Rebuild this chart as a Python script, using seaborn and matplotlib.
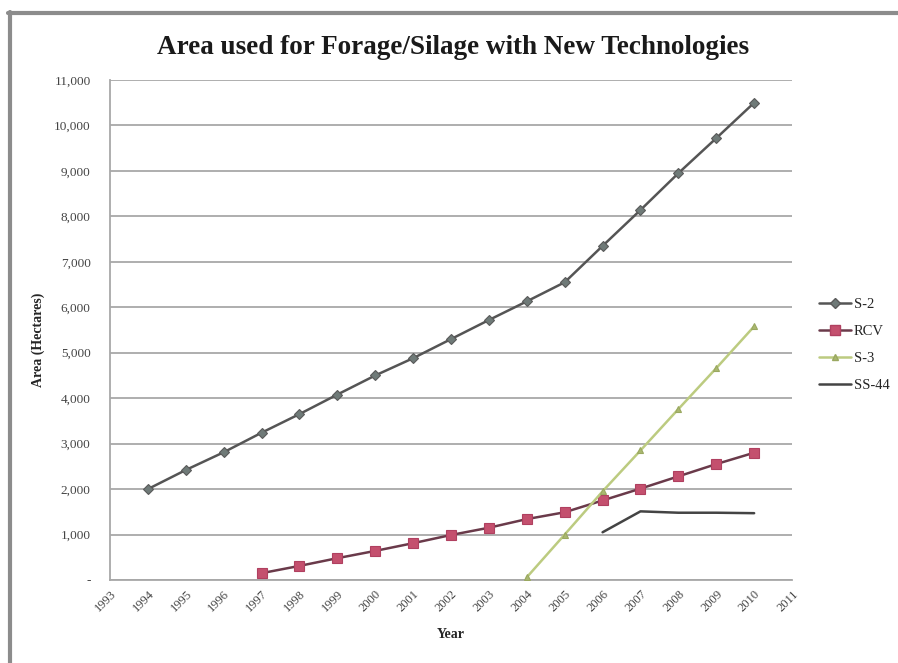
import matplotlib
matplotlib.use("Agg")
import matplotlib.pyplot as plt
from matplotlib.lines import Line2D
from matplotlib.ticker import FuncFormatter, MultipleLocator
import pandas as pd
import seaborn as sns

# Hectares per year for each technology
years_s2 = list(range(1994, 2011))
s2 = [2000, 2420, 2810, 3240, 3650, 4080, 4500, 4880, 5300, 5720,
      6130, 6550, 7350, 8140, 8950, 9720, 10500]

years_rcv = list(range(1997, 2011))
rcv = [150, 310, 480, 640, 810, 990, 1150, 1340, 1490, 1750,
       2010, 2280, 2550, 2800]

years_s3 = list(range(2004, 2011))
s3 = [60, 1000, 1950, 2850, 3760, 4660, 5580]

years_ss44 = list(range(2006, 2011))
ss44 = [1050, 1510, 1480, 1480, 1470]

series_names = ["S-2", "RCV", "S-3", "SS-44"]
tick_years = list(range(1993, 2012))

frames = []
for name, yrs, vals in [("S-2", years_s2, s2), ("RCV", years_rcv, rcv),
                        ("S-3", years_s3, s3), ("SS-44", years_ss44, ss44)]:
    frames.append(pd.DataFrame({"Year": yrs, "Area": vals, "Series": name}))
df = pd.concat(frames, ignore_index=True)

sns.set_theme(style="white")
plt.rcParams["font.family"] = ["Liberation Serif", "DejaVu Serif"]

fig = plt.figure(figsize=(8.98, 6.63), dpi=100)
ax = fig.add_axes([0.1225, 0.1252, 0.7595, 0.7541])

styles = {
    "S-2": dict(color="#555555", marker="D", markersize=5,
                markerfacecolor="#6f7a78", markeredgecolor="#5a5a5a"),
    "RCV": dict(color="#6a3a4a", marker="s", markersize=7,
                markerfacecolor="#c4506e", markeredgecolor="#b04060"),
    "S-3": dict(color="#bccb80", marker="^", markersize=5,
                markerfacecolor="#aab870", markeredgecolor="#9aa860"),
    "SS-44": dict(color="#444444", marker=None),
}

for name in series_names:
    sub = df[df["Series"] == name]
    st = styles[name]
    sns.lineplot(data=sub, x="Year", y="Area", ax=ax, label=name,
                 color=st["color"], linewidth=1.8,
                 marker=st["marker"],
                 markersize=st.get("markersize", 0),
                 markerfacecolor=st.get("markerfacecolor"),
                 markeredgecolor=st.get("markeredgecolor"),
                 markeredgewidth=0.8, zorder=3)

ax.set_xlim(1993, 2011)
ax.set_ylim(0, 11000)
ax.set_xticks(tick_years)
ax.set_xticklabels([str(y) for y in tick_years], rotation=45,
                   ha="right", rotation_mode="anchor",
                   fontsize=9, color="#444444")
ax.yaxis.set_major_locator(MultipleLocator(1000))
ax.yaxis.set_major_formatter(
    FuncFormatter(lambda v, p: "-" if v == 0 else f"{int(v):,}"))
for lab in ax.get_yticklabels():
    lab.set_fontsize(9.5)
    lab.set_color("#444444")

ax.grid(axis="y", color="#a8a8a8", linewidth=1.3)
ax.grid(axis="x", visible=False)
for side in ["top", "right"]:
    ax.spines[side].set_visible(False)
for side in ["left", "bottom"]:
    ax.spines[side].set_color("#a8a8a8")
    ax.spines[side].set_linewidth(1.3)
ax.tick_params(axis="both", which="major", direction="out", length=4,
               width=1, color="#a8a8a8", pad=2)
ax.tick_params(axis="y", pad=10)

ax.set_xlabel("Year", fontsize=10, fontweight="bold", labelpad=10)
ax.set_ylabel("Area (Hectares)", fontsize=10, fontweight="bold")
ax.yaxis.set_label_coords(-0.096, 0.48)

fig.text(0.505, 0.929, "Area used for Forage/Silage with New Technologies",
         ha="center", va="center", fontsize=19.5, fontweight="bold",
         color="#1a1a1a")

handles = []
for name in series_names:
    st = styles[name]
    handles.append(Line2D([], [], color=st["color"], linewidth=1.8,
                          marker=st["marker"],
                          markersize=st.get("markersize", 0),
                          markerfacecolor=st.get("markerfacecolor"),
                          markeredgecolor=st.get("markeredgecolor")))
ax.legend(handles, series_names, loc="center left",
          bbox_to_anchor=(1.02, 0.47), frameon=False, fontsize=10.5,
          handlelength=2.2, labelspacing=0.95, handletextpad=0.2)

# outer frame lines on the left and top edges
fig.add_artist(Line2D([10 / 898, 10 / 898], [0, 1 - 12 / 663],
                      transform=fig.transFigure, color="#8c8c8c",
                      linewidth=3.0))
fig.add_artist(Line2D([8 / 898, 1], [1 - 13 / 663, 1 - 13 / 663],
                      transform=fig.transFigure, color="#8c8c8c",
                      linewidth=3.0))

fig.savefig("out.png", dpi=100, facecolor="white")
